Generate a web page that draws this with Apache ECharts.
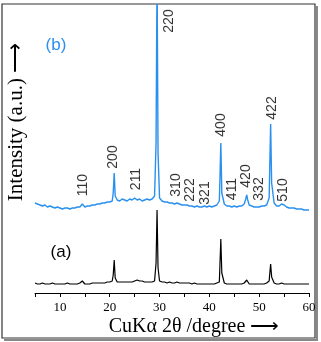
<!DOCTYPE html>
<html>
<head>
<meta charset="utf-8">
<script src="https://cdn.jsdelivr.net/npm/echarts@6/dist/echarts.min.js"></script>
<style>
html, body { margin: 0; padding: 0; background: #fff; }
#chart { width: 321px; height: 342px; }
</style>
</head>
<body>
<div id="chart"></div>
<script>
// 2theta positions (degree), shared by both patterns
const twoTheta = [
  5, 5.5, 6, 6.5, 7, 7.5, 8, 8.5, 9, 9.5, 10, 10.5, 11, 11.5, 12, 12.5, 13, 13.5, 14, 14.5,
  15, 15.5, 16, 16.5, 17, 17.5, 18, 18.5, 19, 19.5, 20, 20.5,
  20.7, 20.9, 21.1,
  21.5, 22, 22.5, 23, 23.5, 24, 24.5, 25, 25.5, 26, 26.5, 27, 27.5, 28, 28.5, 29,
  29.3, 29.5, 29.7,
  30, 30.5, 31, 31.5, 32, 32.5, 33, 33.5, 34, 34.5, 35, 35.5, 36, 36.5, 37, 37.5, 38, 38.5,
  39, 39.5, 40, 40.5, 41, 41.5, 42,
  42.1, 42.3, 42.5,
  43, 43.5, 44, 44.5, 45, 45.5, 46, 46.5, 47,
  47.3, 47.5, 47.7,
  48, 48.5, 49, 49.5, 50, 50.5, 51, 51.5, 52,
  52.1, 52.3, 52.5,
  53, 53.5, 54, 54.5, 55, 55.5, 56, 56.5, 57, 57.5, 58, 58.5, 59, 59.5, 60
];

// pattern (b), offset upwards
const intensityB = [
  90, 89, 88, 87, 88, 86, 87, 86, 85, 86, 85, 84, 85, 85, 84, 85, 85, 86, 86, 89,
  86, 87, 87, 88, 88, 89, 89, 90, 90, 91, 91, 92,
  100, 120, 97,
  93, 92, 94, 93, 92, 94, 93, 95, 93, 94, 92, 93, 94, 93, 94, 97,
  150, 320, 140,
  95, 92, 91, 91, 90, 90, 89, 90, 89, 88, 88, 88, 87, 87, 86, 87, 86, 86,
  87, 86, 87, 86, 87, 88, 92,
  110, 150, 100,
  89, 87, 87, 86, 87, 86, 87, 87, 89,
  94, 98, 93,
  88, 87, 86, 86, 86, 87, 87, 88, 95,
  120, 169, 110,
  90, 87, 87, 89, 88, 86, 85, 85, 85, 84, 84, 84, 83, 83, 83
];

// pattern (a)
const intensityA = [
  10, 9, 9, 10, 9, 9, 9, 10, 9, 9, 9, 9, 9, 10, 9, 9, 9, 9, 10, 12,
  9, 9, 9, 10, 10, 10, 10, 10, 10, 11, 11, 12,
  18, 33, 15,
  11, 11, 11, 11, 11, 11, 11, 12, 13, 12, 12, 11, 11, 11, 11, 12,
  30, 83, 25,
  12, 11, 11, 10, 11, 10, 10, 11, 10, 10, 10, 10, 10, 9, 10, 9, 9, 9,
  9, 9, 9, 9, 9, 10, 11,
  25, 54, 20,
  10, 9, 9, 9, 9, 9, 9, 9, 10,
  11, 13, 11,
  9, 9, 9, 9, 9, 9, 9, 10, 12,
  18, 29, 16,
  10, 9, 9, 10, 9, 9, 9, 9, 9, 9, 9, 9, 9, 9, 9
];

// Miller indices and where their labels sit
const hklText = ['110', '200', '211', '220', '310', '222', '321', '400', '411', '420', '332', '422', '510'];
const hklAngle = [14.6, 20.7, 25.3, 31.9, 33.3, 36.1, 39.1, 42.3, 44.6, 47.4, 50.0, 52.6, 54.8];
const hklHeight = [108, 136, 114, 272, 108, 103, 100, 168, 104, 117, 104, 185, 103];

const chart = echarts.init(document.getElementById('chart'));

const option = {
  animation: false,
  grid: { left: 35, right: 12, top: 5, bottom: 49 },
  xAxis: {
    type: 'value',
    min: 5,
    max: 60,
    interval: 5,
    axisLine: { lineStyle: { color: '#000', width: 1 } },
    axisTick: { length: 4, lineStyle: { color: '#000' } },
    splitLine: { show: false },
    axisLabel: {
      color: '#000',
      fontFamily: 'Liberation Serif',
      fontSize: 13,
      margin: 8,
      formatter: (v) => (v % 10 === 0 ? String(v) : '')
    }
  },
  yAxis: { type: 'value', min: 0, max: 288, show: false },
  series: [
    {
      name: 'b',
      type: 'line',
      data: twoTheta.map((t, i) => [t, intensityB[i]]),
      showSymbol: false,
      lineStyle: { color: '#2a90f0', width: 1.4 },
      clip: true
    },
    {
      name: 'a',
      type: 'line',
      data: twoTheta.map((t, i) => [t, intensityA[i]]),
      showSymbol: false,
      lineStyle: { color: '#000', width: 1.2 },
      clip: true
    },
    {
      name: 'hkl',
      type: 'scatter',
      symbolSize: 0,
      data: hklAngle.map((t, i) => ({ value: [t, hklHeight[i]], name: hklText[i] })),
      label: {
        show: true,
        position: 'inside',
        rotate: 90,
        formatter: (p) => p.name,
        color: '#000',
        fontFamily: 'Liberation Sans',
        fontSize: 14
      }
    }
  ],
  graphic: [
    {
      type: 'rect',
      shape: { x: 2, y: 4, width: 313, height: 334 },
      style: { fill: null, stroke: '#333', lineWidth: 1.2 }
    },
    {
      type: 'polyline',
      shape: { points: [[317, 6], [317, 340], [4, 340]] },
      style: { fill: null, stroke: '#888', lineWidth: 2 }
    },
    {
      type: 'text',
      x: 56, y: 45,
      style: { text: '(b)', fill: '#2a90f0', font: '17px "Liberation Sans"', align: 'center', verticalAlign: 'middle' }
    },
    {
      type: 'text',
      x: 61, y: 252,
      style: { text: '(a)', fill: '#000', font: '17px "Liberation Sans"', align: 'center', verticalAlign: 'middle' }
    },
    {
      type: 'text',
      x: 16, y: 122,
      rotation: Math.PI / 2,
      style: { text: 'Intensity (a.u.) \u27F6', fill: '#000', font: '21px "Liberation Serif"', align: 'center', verticalAlign: 'middle' }
    },
    {
      type: 'text',
      x: 194, y: 327,
      style: { text: 'CuK\u03B1 2\u03B8 /degree \u27F6', fill: '#000', font: '20px "Liberation Serif"', align: 'center', verticalAlign: 'middle' }
    }
  ]
};

chart.setOption(option);
</script>
</body>
</html>
